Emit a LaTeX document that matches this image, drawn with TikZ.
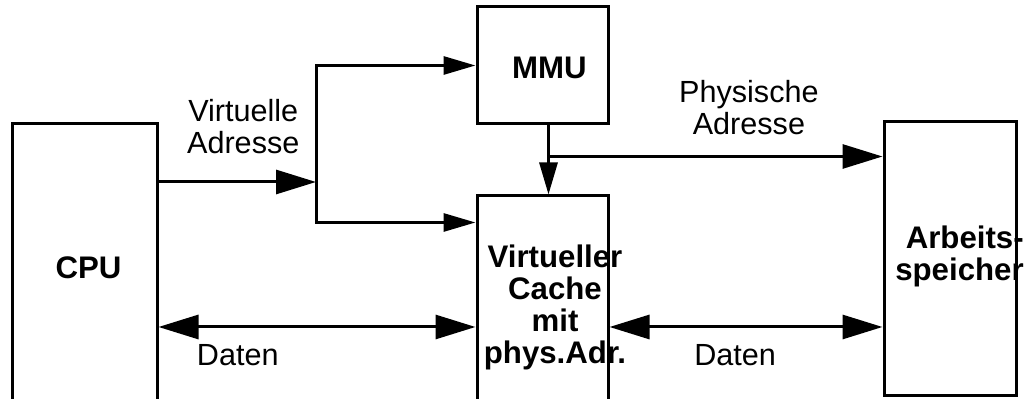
\documentclass[tikz,border=0pt]{standalone}
\usepackage{fontspec}
\setmainfont{Liberation Sans}
\usetikzlibrary{arrows.meta,positioning}

\begin{document}
\begin{tikzpicture}[
    x=0.5pt, y=-0.5pt,
    every node/.style={font=\fontsize{15.3}{16}\selectfont, inner sep=0pt, align=center},
    box/.style={rectangle, draw=black, line width=1.5pt, align=center},
    boxtext/.style={font=\fontsize{15.6}{16}\selectfont\bfseries},
    wire/.style={line width=1.5pt},
    big/.style={wire, -{Triangle[length=20pt,width=12pt]}},
    small/.style={wire, -{Triangle[length=16pt,width=9pt]}},
    both/.style={wire, {Triangle[length=20pt,width=12pt]}-{Triangle[length=20pt,width=12pt]}}
  ]
    \useasboundingbox (0,0) rectangle (1030,399);
    \clip (0,0) rectangle (1030,399);

    \node[box, minimum width=72.5pt, minimum height=143.5pt,
      label={[boxtext, xshift=2pt]center:CPU}] (cpu) at (84.5,267.5) {};
    \node[box, minimum width=65.5pt, minimum height=58.5pt,
      label={[boxtext, xshift=3.5pt, yshift=-1pt]center:MMU}] (mmu) at (542.5,65.5) {};
    \node[box, minimum width=65.5pt, minimum height=111.5pt,
      label={[boxtext, xshift=6.25pt]center:Virtueller\\Cache\\mit\\phys.Adr.}] (cache) at (542.5,307.5) {};
    \node[box, minimum width=66pt, minimum height=137pt,
      label={[boxtext, align=right, xshift=4.75pt, yshift=1.5pt]center:Arbeits-\\speicher}] (mem) at (950,259) {};

    \coordinate (split) at (316,182);
    \coordinate (tap) at ([xshift=3pt,yshift=-15.5pt]mmu.south);
    \coordinate (bus) at (0,327);

    \draw[big] (cpu.east |- split) -- node[above=13.5pt, xshift=3pt] (vaddr) {Virtuelle\\Adresse} (split);
    \draw[small] (split) |- (mmu.west);
    \draw[small] (split) |- ([yshift=-14pt]cache.north west);
    \draw[small] ([xshift=3pt]mmu.south) -- ([xshift=3pt]cache.north);
    \draw[big] (tap) -- node[pos=0.6, above=10pt] (paddr) {Physische\\Adresse} (tap -| mem.west);
    \draw[both] (cpu.east |- bus) -- node[pos=0.25, below=8pt] (data1) {Daten} (cache.west |- bus);
    \draw[both] (cache.east |- bus) -- node[pos=0.46, below=8pt] (data2) {Daten} (mem.west |- bus);
\end{tikzpicture}
\end{document}
